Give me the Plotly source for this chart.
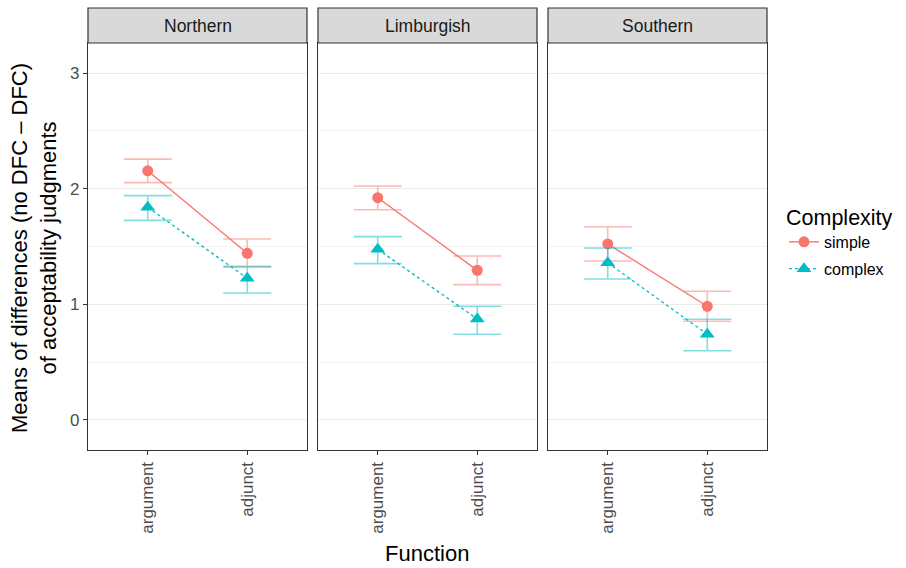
import plotly.graph_objects as go

W, H = 906, 568

regions = ["Northern", "Limburgish", "Southern"]
functions = ["argument", "adjunct"]
groups = ["simple", "complex"]

simple_mean = {"Northern": [2.155, 1.441], "Limburgish": [1.922, 1.294], "Southern": [1.522, 0.983]}
simple_upper = {"Northern": [2.256, 1.565], "Limburgish": [2.023, 1.418], "Southern": [1.671, 1.113]}
simple_lower = {"Northern": [2.052, 1.326], "Limburgish": [1.818, 1.170], "Southern": [1.375, 0.853]}

complex_mean = {"Northern": [1.839, 1.225], "Limburgish": [1.476, 0.873], "Southern": [1.360, 0.741]}
complex_upper = {"Northern": [1.940, 1.326], "Limburgish": [1.585, 0.983], "Southern": [1.487, 0.871]}
complex_lower = {"Northern": [1.726, 1.098], "Limburgish": [1.352, 0.741], "Southern": [1.219, 0.599]}

y_ticks = [0, 1, 2, 3]
y_minor = [0.5, 1.5, 2.5]

colors = {"simple": "#F8766D", "complex": "#00BFC4"}
err_colors = {"simple": "rgba(248,118,109,0.5)", "complex": "rgba(0,191,196,0.5)"}
symbols = {"simple": "circle", "complex": "triangle-up"}
dashes = {"simple": "solid", "complex": "dot"}
msizes = {"simple": 11, "complex": 13}

data = {
    "simple": (simple_mean, simple_upper, simple_lower),
    "complex": (complex_mean, complex_upper, complex_lower),
}

panels_px = [(88, 307), (318, 537), (548, 767)]
plot_top, plot_bottom = 43, 450
strip_top = 8

def px(x):
    return x / W

def py(y):
    return (H - y) / H

fig = go.Figure()
layout = {}
shapes = []
annotations = []

for i, reg in enumerate(regions):
    xa = "x" if i == 0 else f"x{i+1}"
    ya = "y" if i == 0 else f"y{i+1}"
    for g in groups:
        mean, up, lo = data[g]
        m = mean[reg]
        fig.add_trace(go.Scatter(
            x=functions, y=m, xaxis=xa, yaxis=ya,
            mode="lines+markers", name=g, legendgroup=g,
            showlegend=(i == 0),
            line=dict(color=colors[g], width=1.4, dash=dashes[g]),
            marker=dict(color=colors[g], symbol=symbols[g], size=msizes[g], line=dict(width=0)),
            error_y=dict(type="data", symmetric=False,
                         array=[u - v for u, v in zip(up[reg], m)],
                         arrayminus=[v - l for v, l in zip(m, lo[reg])],
                         color=err_colors[g], thickness=1.6, width=24),
        ))
    x0, x1 = panels_px[i]
    kx = "xaxis" if i == 0 else f"xaxis{i+1}"
    ky = "yaxis" if i == 0 else f"yaxis{i+1}"
    layout[kx] = dict(
        domain=[px(x0), px(x1)], anchor=ya, type="category",
        categoryorder="array", categoryarray=functions,
        range=[-0.6, 1.6], showgrid=False, zeroline=False,
        showline=True, mirror=True, linecolor="#333333", linewidth=1.2,
        ticks="outside", ticklen=4, tickcolor="#333333", tickwidth=1.1,
        tickangle=-90, tickfont=dict(size=17, color="#4D4D4D"),
    )
    layout[ky] = dict(
        domain=[py(plot_bottom), py(plot_top)], anchor=xa,
        range=[-0.26, 3.26], tickvals=y_ticks,
        showgrid=True, gridcolor="#EBEBEB", gridwidth=1.1, zeroline=False,
        minor=dict(tickvals=y_minor, showgrid=True, gridcolor="#F2F2F2", gridwidth=0.6, ticks=""),
        showline=True, mirror=True, linecolor="#333333", linewidth=1.2,
        ticks="outside" if i == 0 else "", ticklen=4, tickcolor="#333333", tickwidth=1.1,
        showticklabels=(i == 0), tickfont=dict(size=17, color="#4D4D4D"),
    )
    shapes.append(dict(type="rect", xref="paper", yref="paper",
                       x0=px(x0), x1=px(x1), y0=py(plot_top), y1=py(strip_top),
                       fillcolor="#D9D9D9", line=dict(color="#333333", width=1.2)))
    annotations.append(dict(text=reg, xref="paper", yref="paper",
                            x=px((x0 + x1) / 2), y=py((strip_top + plot_top) / 2),
                            showarrow=False, font=dict(size=17.5, color="#1A1A1A"),
                            xanchor="center", yanchor="middle"))

annotations.append(dict(text="Means of differences (no DFC \u2013 DFC)<br>of acceptability judgments",
                        xref="paper", yref="paper", x=px(34), y=py(248),
                        textangle=-90, showarrow=False,
                        font=dict(size=22, color="black"), xanchor="center", yanchor="middle"))
annotations.append(dict(text="Function", xref="paper", yref="paper",
                        x=px(427), y=py(553), showarrow=False,
                        font=dict(size=22, color="black"), xanchor="center", yanchor="middle"))

fig.update_layout(
    width=W, height=H,
    margin=dict(l=0, r=0, t=0, b=0),
    paper_bgcolor="white", plot_bgcolor="white",
    font=dict(family="Liberation Sans, Arial, sans-serif"),
    shapes=shapes, annotations=annotations,
    showlegend=True,
    legend=dict(x=px(784), y=py(197), xanchor="left", yanchor="top",
                title=dict(text="Complexity", font=dict(size=21.5, color="black")),
                font=dict(size=16, color="black"), bgcolor="rgba(0,0,0,0)",
                itemwidth=30, tracegroupgap=3),
    **layout,
)

fig.write_html("out.html", config={"displayModeBar": False},
               post_script="document.body.style.margin='0px';")
